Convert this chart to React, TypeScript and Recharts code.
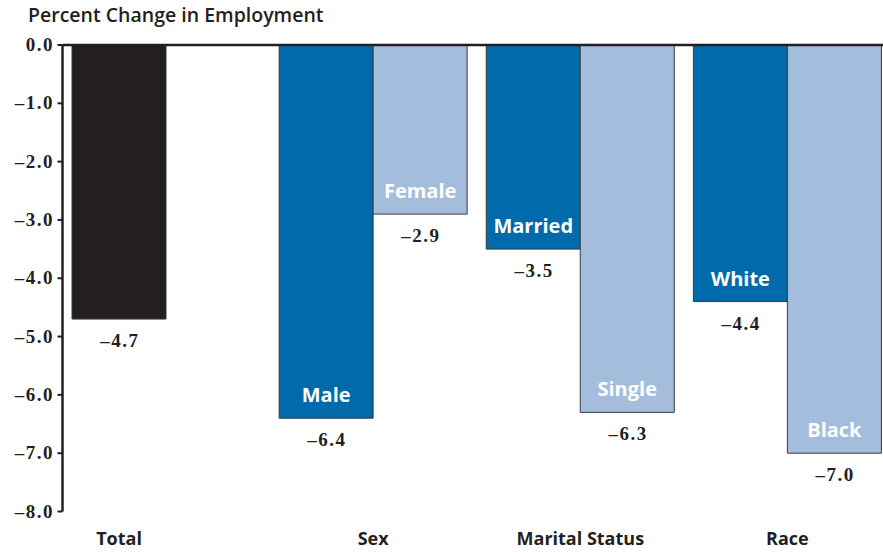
import React from 'react';
import { BarChart, Bar, XAxis, YAxis, Cell, ReferenceLine, LabelList } from 'recharts';

const categories = ['Total', 'Sex', 'Marital Status', 'Race'];
const firstValues: (number | null)[] = [-4.7, -6.4, -3.5, -4.4];
const secondValues: (number | null)[] = [null, -2.9, -6.3, -7.0];
const firstNames = ['', 'Male', 'Married', 'White'];
const secondNames = ['', 'Female', 'Single', 'Black'];
const yTicks = [0, -1, -2, -3, -4, -5, -6, -7, -8];

const firstColors = ['#231f20', '#006aaa', '#006aaa', '#006aaa'];
const secondColor = '#a5bddc';

const data = categories.map((c, i) => ({
  cat: c,
  a: firstValues[i],
  b: secondValues[i],
  aName: firstNames[i],
  bName: secondNames[i],
}));

const SANS = '"Open Sans", "Noto Sans", sans-serif';
const SERIF = '"Liberation Serif", "DejaVu Serif", serif';
const INK = '#231f20';

const fmt = (v: number) => (v === 0 ? '0.0' : '\u2013' + Math.abs(v).toFixed(1));

const ValueLabel = (props: any) => {
  const { x, y, width, height, value } = props;
  if (value === null || value === undefined || value === '') return null;
  const bottom = Math.max(y, y + height);
  return (
    <text x={x + width / 2 + 0.75} y={bottom + 28} textAnchor="middle" fill={INK}
      style={{ fontFamily: SERIF, fontWeight: 700, fontSize: 19, letterSpacing: 1.5 }}>
      {fmt(Number(value))}
    </text>
  );
};

const NameLabel = (props: any) => {
  const { x, y, width, height, value } = props;
  if (!value) return null;
  const bottom = Math.max(y, y + height);
  return (
    <text x={x + width / 2} y={bottom - 16} textAnchor="middle" fill="#ffffff"
      style={{ fontFamily: SANS, fontWeight: 700, fontSize: 20 }}>
      {value}
    </text>
  );
};

const CatTick = (props: any) => {
  const { x, payload, index } = props;
  const dx = index === 0 ? -47 : 0;
  return (
    <text x={x + dx} y={545} textAnchor="middle" fill={INK}
      style={{ fontFamily: SANS, fontWeight: 700, fontSize: 18 }}>
      {payload.value}
    </text>
  );
};

const YTick = (props: any) => {
  const { x, y, payload } = props;
  return (
    <text x={x + 1.5} y={y} dy={6} textAnchor="end" fill={INK}
      style={{ fontFamily: SERIF, fontWeight: 700, fontSize: 19, letterSpacing: 1.5 }}>
      {fmt(Number(payload.value))}
    </text>
  );
};

export default function App() {
  return (
    <div style={{ position: 'absolute', left: 0, top: 0, width: 883, height: 552, overflow: 'hidden', background: '#fff' }}>
      <div style={{ position: 'absolute', left: 28, top: 5, fontFamily: SANS, fontWeight: 600, fontSize: 19.5, lineHeight: 1, color: INK, whiteSpace: 'nowrap' }}>
        Percent Change in Employment
      </div>
      <BarChart width={891} height={552} data={data}
        margin={{ top: 45, right: 0, bottom: 10.5, left: 0 }}
        barCategoryGap={9.5} barGap={0}>
        <XAxis dataKey="cat" height={30} axisLine={false} tickLine={false} tick={<CatTick />} interval={0} />
        <YAxis width={62.5} domain={[-8, 0]} ticks={yTicks} interval={0}
          axisLine={{ stroke: INK, strokeWidth: 2.5 }}
          tickLine={{ stroke: INK, strokeWidth: 2 }} tickSize={5} tickMargin={5}
          tick={<YTick />} />
        <Bar dataKey="a" isAnimationActive={false} stroke="#3a3a3a" strokeWidth={1}>
          {data.map((d, i) => (
            <Cell key={i} fill={firstColors[i]} />
          ))}
          <LabelList dataKey="a" content={<ValueLabel />} />
          <LabelList dataKey="aName" content={<NameLabel />} />
        </Bar>
        <Bar dataKey="b" isAnimationActive={false} fill={secondColor} stroke="#3a3a3a" strokeWidth={1}>
          <LabelList dataKey="b" content={<ValueLabel />} />
          <LabelList dataKey="bName" content={<NameLabel />} />
        </Bar>
        <ReferenceLine y={0} stroke={INK} strokeWidth={2.5} />
      </BarChart>
    </div>
  );
}
